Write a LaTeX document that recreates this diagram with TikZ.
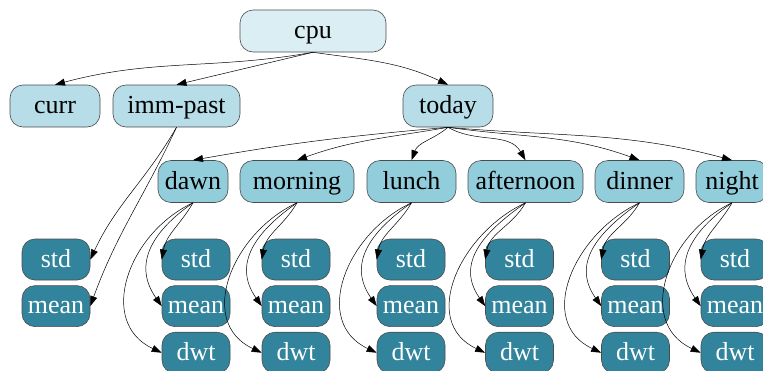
\documentclass[tikz,border=0pt]{standalone}
\usepackage{fontspec}
\setmainfont{Liberation Serif}
\usetikzlibrary{arrows.meta, positioning}
\definecolor{aqualight}{HTML}{DAEEF3}
\definecolor{aquamid}{HTML}{B6DDE8}
\definecolor{aquaslot}{HTML}{92CDDC}
\definecolor{aquadark}{HTML}{31849B}

\begin{document}
\begin{tikzpicture}[x=1pt, y=1pt, every node/.style={font=\fontsize{26}{30}\selectfont},
    box/.style={rectangle, rounded corners=13pt, draw=black!70, line width=0.6pt, minimum height=42pt,
        text height=19pt, text depth=4pt, inner xsep=2pt, inner ysep=0pt},
    root/.style={box, fill=aqualight},
    mid/.style={box, fill=aquamid},
    slot/.style={box, fill=aquaslot},
    leaf/.style={box, fill=aquadark, text=white, minimum width=68pt, minimum height=41pt},
    edge/.style={-{Triangle[length=10pt,width=7pt]}, line width=0.5pt}]
    \useasboundingbox (0,0) rectangle (763,-370);
    \clip (0,0) rectangle (763,-370);
    \node[root, minimum width=146] (cpu) at (313,-31) {cpu};
    \node[mid, minimum width=90] (curr) at (55,-106) {curr};
    \node[mid, minimum width=127] (imm) at (176.5,-106) {imm-past};
    \node[mid, minimum width=90] (today) at (448,-106) {today};
    \foreach \s/\x/\w in {dawn/193/70, morning/297/114, lunch/411.5/89, afternoon/525.5/115, dinner/639.5/89, night/732/72}
        \node[slot, minimum width=\w] (\s) at (\x,-181.5) {\s};
    % the leaves under each part of the day
    \node[leaf] (imm-std) at (56,-259.5) {std};
    \node[leaf, below=5pt of imm-std] (imm-mean) {mean};
    \foreach \s/\x in {dawn/196, morning/296, lunch/411, afternoon/519.5, dinner/635.5, night/735} {
        \node[leaf] (\s-std) at (\x,-259.5) {std};
        \node[leaf, below=5pt of \s-std] (\s-mean) {mean};
        \node[leaf, below=5pt of \s-mean] (\s-dwt) {dwt};
    }
    \draw[edge] (cpu.south) to[out=190, in=15] (curr.north);
    \draw[edge] (cpu.south) -- (imm.north);
    \draw[edge] (cpu.south) to[out=-8, in=155] (today.north);
    \draw[edge] (imm.south) to[out=240, in=65] (imm-std.east);
    \draw[edge] (imm.south) to[out=245, in=70] (imm-mean.east);
    \foreach \s/\o/\i in {dawn/185/10, morning/190/20, lunch/220/70, afternoon/-30/120, dinner/-8/160, night/-5/165}
        \draw[edge] (today.south) to[out=\o, in=\i] (\s.north);
    \foreach \s in {dawn, morning, lunch, afternoon, dinner, night} {
        \draw[edge] (\s.south) to[out=240, in=80] (\s-std.west);
        \draw[edge] (\s.south) to[out=215, in=125, looseness=1.2] (\s-mean.west);
        \draw[edge] (\s.south) to[out=205, in=155, looseness=1.2] (\s-dwt.west);
    }
\end{tikzpicture}
\end{document}
